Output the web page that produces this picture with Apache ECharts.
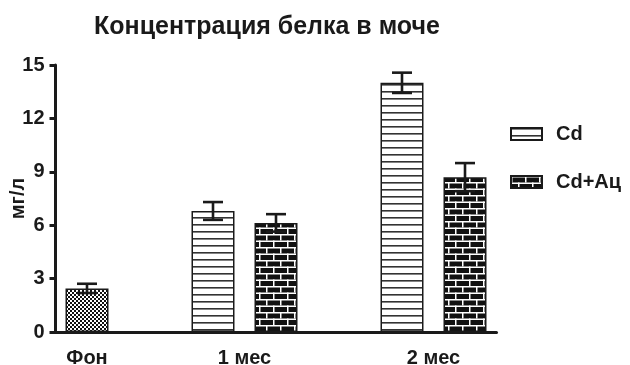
<!DOCTYPE html>
<html>
<head>
<meta charset="utf-8">
<script src="https://cdn.jsdelivr.net/npm/echarts@6/dist/echarts.min.js"></script>
<style>
  html, body { margin: 0; padding: 0; background: #fff; }
  #chart { width: 630px; height: 365px; }
</style>
</head>
<body>
<div id="chart"></div>
<script>
// data
const categories = ['Фон', '1 мес', '2 мес']
const seriesNames = ['Cd', 'Cd+Ац']
const fonValue = [2.45]
const fonErr = [0.26]
const cdValues = [6.8, 14.0]
const cdErr = [0.5, 0.57]
const cdAcValues = [6.13, 8.7]
const cdAcErr = [0.49, 0.79]
const yTicks = [0, 3, 6, 9, 12, 15]

// layout on a 0..7 slot axis
const catPos = [0.5, 3, 6]
const fonX = [0.5]
const cdX = [2.5, 5.5]
const cdAcX = [3.5, 6.5]

const font = '"Liberation Sans", Arial, sans-serif'

function makePattern(w, h, draw) {
  let c = document.createElement('canvas')
  c.width = w
  c.height = h
  let ctx = c.getContext('2d')
  draw(ctx)
  return { image: c, repeat: 'repeat' }
}

const stripes = makePattern(8, 7, ctx => {
  ctx.fillStyle = '#fff'
  ctx.fillRect(0, 0, 8, 7)
  ctx.fillStyle = '#333'
  ctx.fillRect(0, 0, 8, 1.6)
})

const checker = makePattern(4, 4, ctx => {
  ctx.fillStyle = '#fff'
  ctx.fillRect(0, 0, 4, 4)
  ctx.fillStyle = '#111'
  ctx.fillRect(0, 0, 2, 2)
  ctx.fillRect(2, 2, 2, 2)
})

const bricks = makePattern(14, 13, ctx => {
  ctx.fillStyle = '#111'
  ctx.fillRect(0, 0, 14, 13)
  ctx.fillStyle = '#fff'
  ctx.fillRect(0, 0, 14, 1.5)
  ctx.fillRect(0, 6.5, 14, 1.5)
  ctx.fillRect(0, 0, 1.5, 6.5)
  ctx.fillRect(7, 6.5, 1.5, 6.5)
})

function pairs(xs, ys) {
  return xs.map((x, i) => [x, ys[i]])
}

function errData(xs, ys, es) {
  return xs.map((x, i) => [x, ys[i], es[i]])
}

function errSeries(data) {
  return {
    type: 'custom',
    silent: true,
    z: 5,
    data: data,
    renderItem: (params, api) => {
      let x = api.value(0)
      let v = api.value(1)
      let e = api.value(2)
      let top = api.coord([x, v + e])
      let bot = api.coord([x, v - e])
      let hw = 10
      let style = { stroke: '#1a1a1a', lineWidth: 2.6 }
      return {
        type: 'group',
        children: [
          { type: 'line', shape: { x1: top[0], y1: top[1], x2: bot[0], y2: bot[1] }, style: style },
          { type: 'line', shape: { x1: top[0] - hw, y1: top[1], x2: top[0] + hw, y2: top[1] }, style: style },
          { type: 'line', shape: { x1: bot[0] - hw, y1: bot[1], x2: bot[0] + hw, y2: bot[1] }, style: style }
        ]
      }
    }
  }
}

function barSeries(name, data, pattern) {
  return {
    name: name,
    type: 'bar',
    data: data,
    barWidth: 43,
    barGap: '-100%',
    itemStyle: { color: pattern, borderColor: '#1a1a1a', borderWidth: 1.5 }
  }
}

const option = {
  animation: false,
  backgroundColor: '#fff',
  title: {
    text: 'Концентрация белка в моче',
    left: 262,
    top: 10,
    textAlign: 'center',
    textStyle: { fontFamily: font, fontSize: 25, fontWeight: 'bold', color: '#1a1a1a' }
  },
  legend: {
    data: seriesNames.map(n => ({ name: n, icon: 'rect' })),
    orient: 'vertical',
    left: 505,
    top: 119,
    itemWidth: 31,
    itemHeight: 12,
    itemGap: 28,
    textStyle: { fontFamily: font, fontSize: 20, fontWeight: 'bold', color: '#1a1a1a', padding: [0, 0, 0, 9] }
  },
  grid: { left: 55.5, right: 133.5, top: 65, bottom: 33, containLabel: false, outerBoundsMode: 'none' },
  xAxis: {
    type: 'value',
    min: 0,
    max: 7,
    interval: 0.5,
    axisLine: { lineStyle: { color: '#1a1a1a', width: 3 } },
    axisTick: { show: false },
    splitLine: { show: false },
    axisLabel: {
      margin: 16,
      fontFamily: font,
      fontSize: 20,
      fontWeight: 'bold',
      color: '#1a1a1a',
      showMinLabel: true,
      showMaxLabel: true,
      hideOverlap: false,
      formatter: v => {
        let i = catPos.indexOf(v)
        return i >= 0 ? categories[i] : ''
      }
    }
  },
  yAxis: {
    type: 'value',
    min: yTicks[0],
    max: yTicks[yTicks.length - 1],
    interval: 3,
    name: 'мг/л',
    nameLocation: 'middle',
    nameGap: 27,
    nameMoveOverlap: false,
    nameRotate: 90,
    nameTextStyle: { fontFamily: font, fontSize: 20, fontWeight: 'bold', color: '#1a1a1a' },
    axisLine: { show: true, lineStyle: { color: '#1a1a1a', width: 3 } },
    axisTick: { show: true, length: 6, lineStyle: { color: '#1a1a1a', width: 3 } },
    splitLine: { show: false },
    axisLabel: { margin: 11, fontFamily: font, fontSize: 20, fontWeight: 'bold', color: '#1a1a1a' }
  },
  series: [
    barSeries('Фон', pairs(fonX, fonValue), checker),
    barSeries(seriesNames[0], pairs(cdX, cdValues), stripes),
    barSeries(seriesNames[1], pairs(cdAcX, cdAcValues), bricks),
    errSeries(errData(fonX, fonValue, fonErr)),
    errSeries(errData(cdX, cdValues, cdErr)),
    errSeries(errData(cdAcX, cdAcValues, cdAcErr))
  ]
}

let chart = echarts.init(document.getElementById('chart'))
chart.setOption(option)
</script>
</body>
</html>
